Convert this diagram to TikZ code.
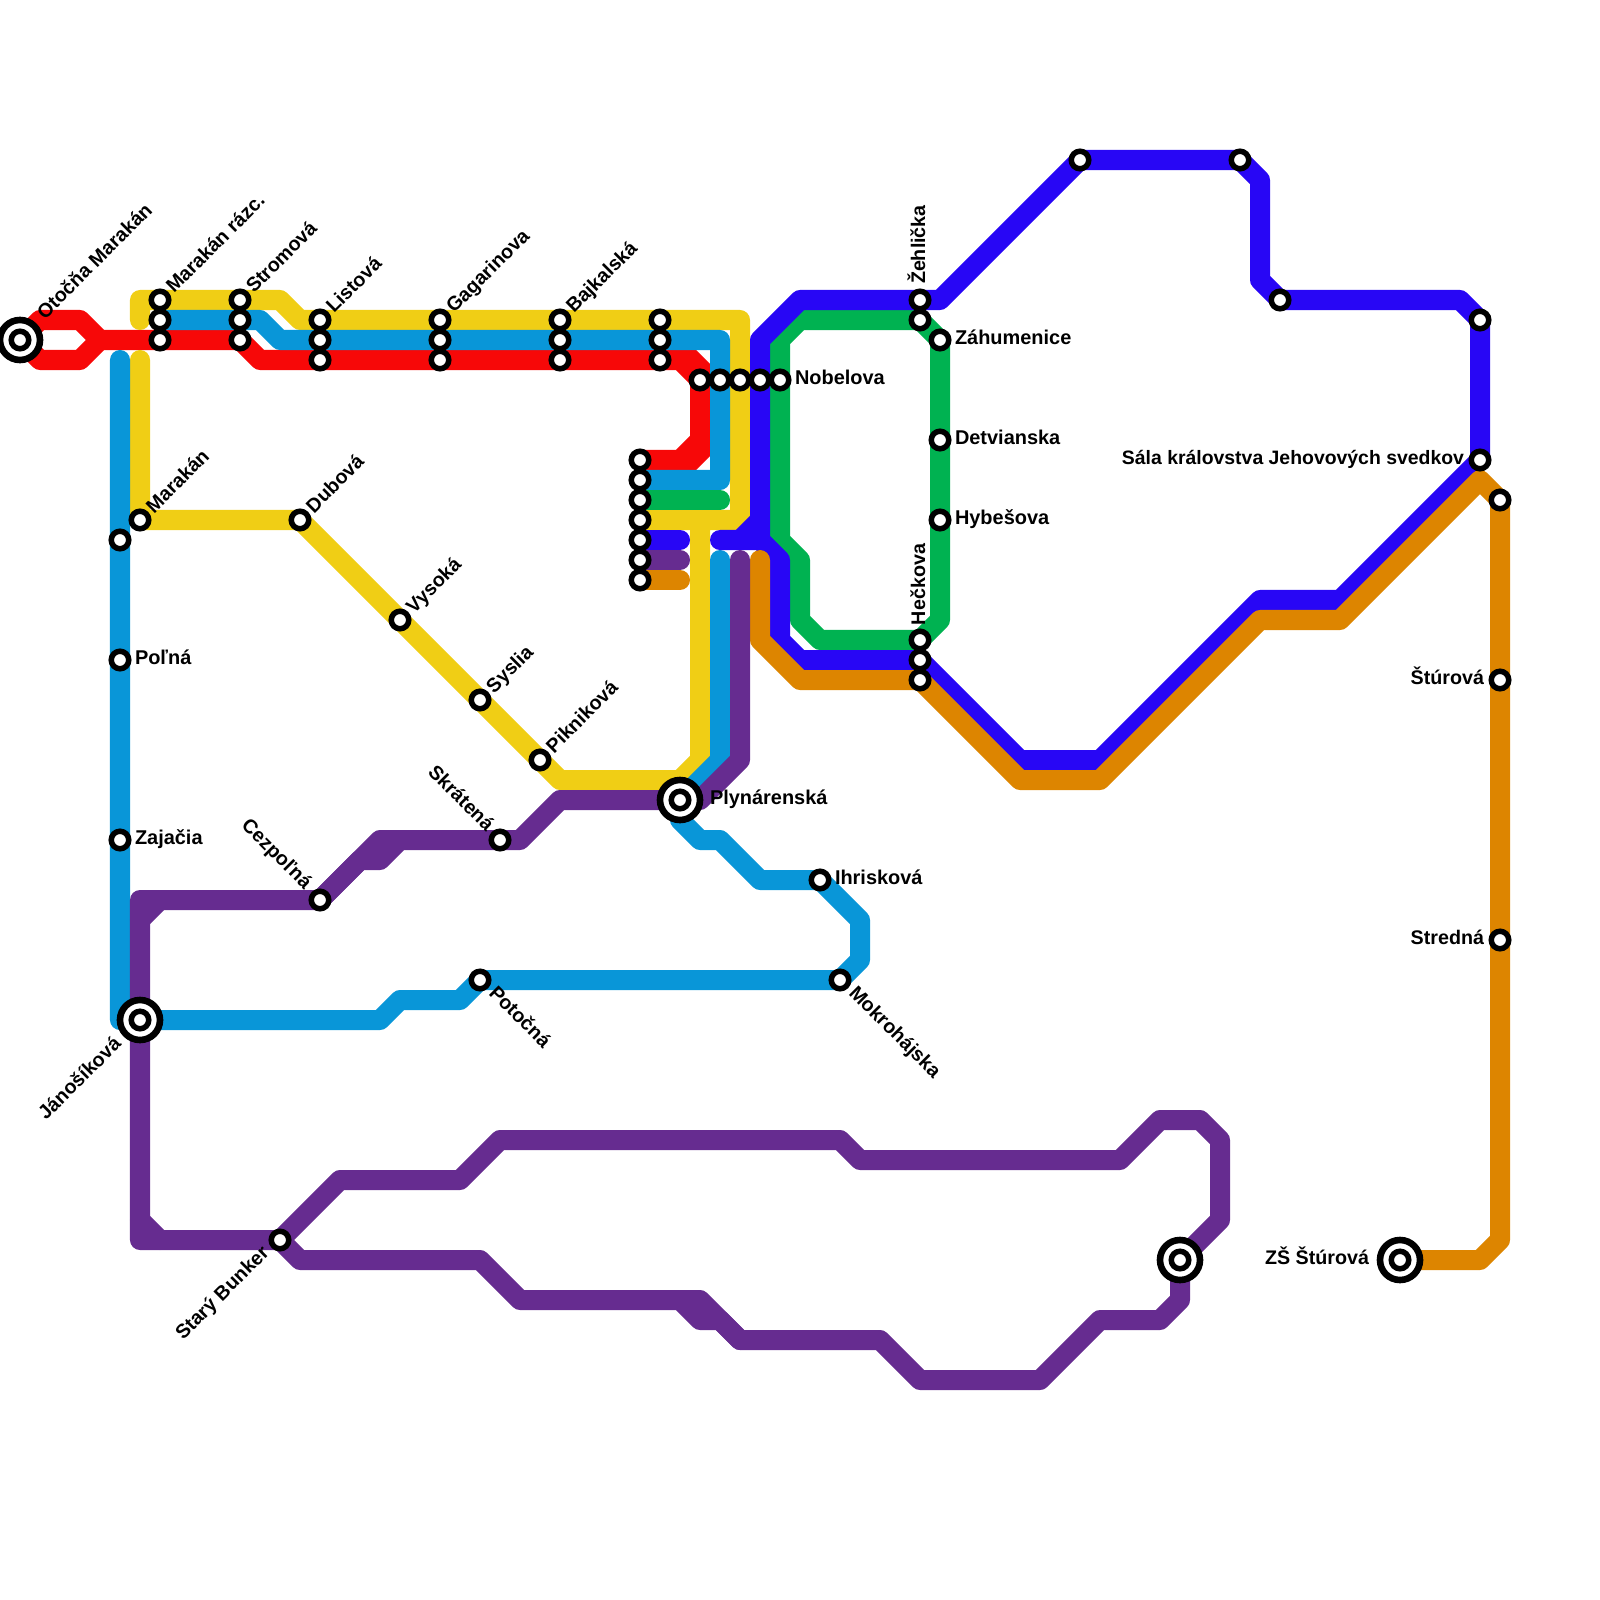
\documentclass[tikz,border=0pt]{standalone}
\usepackage{fontspec}
\setmainfont{Liberation Sans}
\definecolor{cred}{RGB}{247,8,8}
\definecolor{cblue}{RGB}{9,150,216}
\definecolor{cyellow}{RGB}{240,206,21}
\definecolor{cpurple}{RGB}{102,44,144}
\definecolor{cindigo}{RGB}{40,6,245}
\definecolor{cgreen}{RGB}{0,178,81}
\definecolor{corange}{RGB}{221,133,0}
\tikzset{
  x=0.01cm,y=-0.01cm,
  metro/.style={line width=0.2cm,line cap=round,line join=round},
  stn/.style={circle,draw=black,fill=white,line width=0.055cm,minimum size=0.175cm,inner sep=0pt,outer sep=0pt},
  hub/.style={circle,draw=black,fill=white,line width=0.066cm,minimum size=0.4cm,inner sep=0pt,outer sep=0pt},
  lab/.style={inner sep=0pt,outer sep=0pt,font=\fontsize{5.6pt}{6pt}\selectfont\bfseries,text=black},
  labh/.style={lab,font=\fontsize{5.67pt}{6pt}\selectfont\bfseries},
  labr/.style={lab,anchor=base west},
  labl/.style={lab,anchor=base east},
}
\begin{document}
\begin{tikzpicture}
\useasboundingbox (0,0) rectangle (1600,1600);
% station positions
\foreach \n/\x/\y in {
 otocna/20/340, mra/160/300, mrb/160/320, mrc/160/340, sta/240/300, stb/240/320, stc/240/340,
 lia/320/320, lib/320/340, lic/320/360, gaa/440/320, gab/440/340, gac/440/360,
 baa/560/320, bab/560/340, bac/560/360, una/660/320, unb/660/340, unc/660/360,
 noa/700/380, nob/720/380, noc/740/380, nod/760/380, noe/780/380,
 ca/640/460, cb/640/480, cc/640/500, cd/640/520, ce/640/540, cf/640/560, cg/640/580,
 zea/920/300, zeb/920/320, zah/940/340, det/940/440, hyb/940/520,
 hea/920/640, heb/920/660, hec/920/680,
 ra/1080/160, rb/1240/160, rc/1280/300, rd/1480/320, sala/1480/460, re/1500/500,
 stu/1500/680, stre/1500/940, zs/1400/1260, pa/1180/1260,
 mok/840/980, pot/480/980, ihr/820/880, ply/680/800, skr/500/840, cez/320/900,
 jan/140/1020, sbu/280/1240, zaj/120/840, pol/120/660, ua/120/540, mar/140/520,
 dub/300/520, vys/400/620, sys/480/700, pik/540/760}
 {\coordinate (\n) at (\x,\y);}
% red
\draw[metro,cred] (otocna) -- (40,320) -- (80,320) -- (100,340) -- (80,360) -- (40,360) -- (otocna);
\draw[metro,cred] (100,340) -- (mrc) -- (stc) -- (260,360) -- (lic) -- (gac) -- (bac) -- (unc) -- (680,360) -- (noa) -- (700,440) -- (680,460) -- (ca);
\fill[cred] (680,350) -- (696,350) -- (710,364) -- (710,380) -- (700,380) -- (680,360) -- cycle;
\fill[cred] (710,440) -- (710,456) -- (696,470) -- (680,470) -- (680,460) -- (700,440) -- cycle;
% yellow
\draw[metro,cyellow] (140,320) -- (140,300) -- (mra) -- (sta) -- (280,300) -- (300,320) -- (lia) -- (gaa) -- (baa) -- (una) -- (740,320) -- (noc) -- (740,520) -- (cd);
\draw[metro,cyellow] (140,360) -- (mar) -- (dub) -- (vys) -- (sys) -- (pik) -- (560,780) -- (680,780) -- (700,760) -- (700,520);
% blue
\draw[metro,cblue] (mrb) -- (stb) -- (260,320) -- (280,340) -- (lib) -- (gab) -- (bab) -- (unb) -- (720,340) -- (nob) -- (720,480) -- (cb);
\draw[metro,cblue] (120,360) -- (ua) -- (pol) -- (zaj) -- (120,1020) -- (jan) -- (380,1020) -- (400,1000) -- (460,1000) -- (pot) -- (mok) -- (860,960) -- (860,920) -- (ihr) -- (760,880) -- (720,840) -- (700,840) -- (680,820) -- (ply) -- (720,760) -- (720,560);
% green
\draw[metro,cgreen] (cc) -- (720,500);
\draw[metro,cgreen] (zeb) -- (zah) -- (det) -- (hyb) -- (940,620) -- (hea) -- (820,640) -- (800,620) -- (800,560) -- (780,540) -- (noe) -- (780,340) -- (800,320) -- (zeb);
% indigo
\draw[metro,cindigo] (ce) -- (680,540);
\draw[metro,cindigo] (720,540) -- (760,540) -- (nod) -- (760,340) -- (800,300) -- (zea) -- (940,300) -- (ra) -- (rb) -- (1260,180) -- (1260,280) -- (rc) -- (1460,300) -- (rd) -- (sala) -- (1340,600) -- (1260,600) -- (1100,760) -- (1020,760) -- (heb) -- (800,660) -- (780,640) -- (780,560) -- (760,540);
\draw[metro,cindigo,line cap=butt] (760,520) -- (740,540);
% orange
\draw[metro,corange] (cg) -- (680,580);
\draw[metro,corange] (760,560) -- (760,640) -- (800,680) -- (hec) -- (1020,780) -- (1100,780) -- (1260,620) -- (1340,620) -- (1480,480) -- (re) -- (stu) -- (stre) -- (1500,1240) -- (1480,1260) -- (zs);
% purple
\draw[metro,cpurple] (cf) -- (680,560);
\draw[metro,cpurple] (740,560) -- (740,760) -- (700,800) -- (ply) -- (560,800) -- (520,840) -- (skr) -- (400,840) -- (380,860) -- (360,860) -- (cez) -- (140,900) -- (jan) -- (140,1240) -- (sbu) -- (340,1180) -- (460,1180) -- (500,1140) -- (840,1140) -- (860,1160) -- (1120,1160) -- (1160,1120) -- (1200,1120) -- (1220,1140) -- (1220,1220) -- (pa) -- (1180,1300) -- (1160,1320) -- (1100,1320) -- (1040,1380) -- (920,1380) -- (880,1340) -- (740,1340) -- (720,1320) -- (700,1320) -- (680,1300) -- (520,1300) -- (480,1260) -- (300,1260) -- (sbu);
\draw[metro,cpurple] (cez) -- (380,840) -- (400,840);
\draw[metro,cpurple] (140,920) -- (160,900);
\draw[metro,cpurple] (140,1220) -- (160,1240);
\draw[metro,cpurple] (680,1300) -- (700,1300) -- (740,1340);
% interchange rings
\foreach \n in {otocna,ply,jan,pa,zs} {\node[hub] (hub-\n) at (\n) {};}
% stations
\foreach \n in {otocna,mra,mrb,mrc,sta,stb,stc,lia,lib,lic,gaa,gab,gac,baa,bab,bac,una,unb,unc,noa,nob,noc,nod,noe,ca,cb,cc,cd,ce,cf,cg,zea,zeb,zah,det,hyb,hea,heb,hec,ra,rb,rc,rd,sala,re,stu,stre,zs,pa,mok,pot,ihr,ply,skr,cez,jan,sbu,zaj,pol,ua,mar,dub,vys,sys,pik}
 {\node[stn] (st-\n) at (\n) {};}
% labels up-right
\node[labr,rotate=45] (t-otocna) at ([shift={(25,-20)}]otocna) {Otočňa Marakán};
\node[labr,rotate=45] (t-mra) at ([shift={(14,-6)}]mra) {Marakán rázc.};
\node[labr,rotate=45] (t-sta) at ([shift={(14,-6)}]sta) {Stromová};
\node[labr,rotate=45] (t-lia) at ([shift={(14,-6)}]lia) {Listová};
\node[labr,rotate=45] (t-gaa) at ([shift={(14,-6)}]gaa) {Gagarinova};
\node[labr,rotate=45] (t-baa) at ([shift={(14,-6)}]baa) {Bajkalská};
\node[labr,rotate=45] (t-mar) at ([shift={(14,-6)}]mar) {Marakán};
\node[labr,rotate=45] (t-dub) at ([shift={(14,-6)}]dub) {Dubová};
\node[labr,rotate=45] (t-vys) at ([shift={(14,-6)}]vys) {Vysoká};
\node[labr,rotate=45] (t-sys) at ([shift={(14,-6)}]sys) {Syslia};
\node[labr,rotate=45] (t-pik) at ([shift={(14,-6)}]pik) {Piknikov\'a};
% labels right
\node[labr,labh] (t-noe) at ([shift={(15,4)}]noe) {Nobelova};
\node[labr,labh] (t-zah) at ([shift={(15,4)}]zah) {Záhumenice};
\node[labr,labh] (t-det) at ([shift={(15,4)}]det) {Detvianska};
\node[labr,labh] (t-hyb) at ([shift={(15,4)}]hyb) {Hybešova};
\node[labr,labh] (t-pol) at ([shift={(15,4)}]pol) {Poľná};
\node[labr,labh] (t-zaj) at ([shift={(15,4)}]zaj) {Zajačia};
\node[labr,labh] (t-ihr) at ([shift={(15,4)}]ihr) {Ihrisková};
\node[labr,labh] (t-ply) at ([shift={(30,4)}]ply) {Plynárenská};
% labels left
\node[labl,font=\fontsize{5.52pt}{6pt}\selectfont\bfseries] (t-sala) at ([shift={(-16,4)}]sala) {Sála královstva Jehovových svedkov};
\node[labl] (t-stu) at ([shift={(-16,4)}]stu) {Štúrová};
\node[labl] (t-stre) at ([shift={(-16,4)}]stre) {Stredná};
\node[labl] (t-zs) at ([shift={(-31,4)}]zs) {ZŠ Štúrová};
% labels vertical
\node[labr,rotate=90] (t-zea) at ([shift={(5,-16)}]zea) {Žehlička};
\node[labr,rotate=90] (t-hea) at ([shift={(5,-15)}]hea) {Hečkova};
% labels down-right
\node[labr,rotate=-45] (t-pot) at ([shift={(8,14)}]pot) {Potočná};
\node[labr,rotate=-45] (t-mok) at ([shift={(8,14)}]mok) {Mokrohájska};
% labels ending at station
\node[labl,rotate=-45] (t-skr) at ([shift={(-14,-8)}]skr) {Skrátená};
\node[labl,rotate=-45] (t-cez) at ([shift={(-16,-10)}]cez) {Cezpoľná};
\node[labl,rotate=45] (t-jan) at ([shift={(-18,25)}]jan) {Jánošíková};
\node[labl,rotate=45] (t-sbu) at ([shift={(-10,14)}]sbu) {Starý Bunker};
\end{tikzpicture}
\end{document}
